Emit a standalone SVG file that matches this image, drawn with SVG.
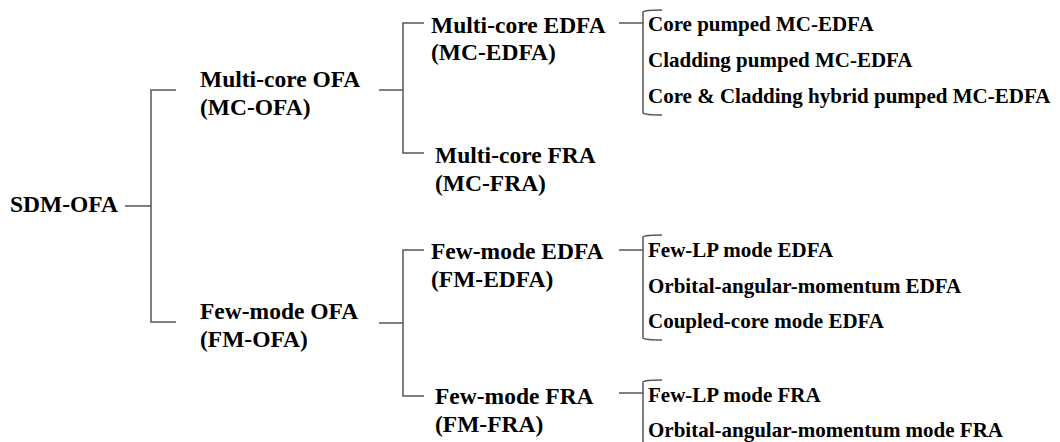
<svg xmlns="http://www.w3.org/2000/svg" width="1060" height="442" viewBox="0 0 1060 442">
<style>
text{font-family:"Liberation Serif","Times New Roman",serif;font-weight:bold;fill:#000}
.m{font-size:23.5px}
.s{font-size:21px}
.c{fill:none;stroke:#555;stroke-width:1.5}
</style>
<rect width="1060" height="442" fill="#fff"/>
<g id="connectors">
<path class="c" d="M125,206H151M176,90H151V322H176"/>
<path class="c" d="M379,90H403M424,23H403V153H424"/>
<path class="c" d="M379,323H403M424,250H403V396H424"/>
<path class="c" d="M619,23H643M662,10Q645,10 643,12V113Q645,115 662,115"/>
<path class="c" d="M619,250H643M662,235Q645,235 643,237V338Q645,340 662,340"/>
<path class="c" d="M619,393H643M662,380Q645,380 643,382V442"/>
</g>
<g id="n-sdm"><text class="m" x="10" y="212">SDM-OFA</text></g>
<g id="n-mcofa"><text class="m" x="200" y="87">Multi-core OFA</text><text class="m" x="200" y="115">(MC-OFA)</text></g>
<g id="n-fmofa"><text class="m" x="200" y="319">Few-mode OFA</text><text class="m" x="200" y="347">(FM-OFA)</text></g>
<g id="n-mcedfa"><text class="m" x="431" y="33">Multi-core EDFA</text><text class="m" x="431" y="60">(MC-EDFA)</text></g>
<g id="n-mcfra"><text class="m" x="435" y="163">Multi-core FRA</text><text class="m" x="435" y="191">(MC-FRA)</text></g>
<g id="n-fmedfa"><text class="m" x="431" y="259">Few-mode EDFA</text><text class="m" x="431" y="287">(FM-EDFA)</text></g>
<g id="n-fmfra"><text class="m" x="435" y="404">Few-mode FRA</text><text class="m" x="435" y="432">(FM-FRA)</text></g>
<g id="n-mcedfa-list">
<text class="s" x="648" y="31">Core pumped MC-EDFA</text>
<text class="s" x="648" y="67">Cladding pumped MC-EDFA</text>
<text class="s" x="648" y="103">Core &amp; Cladding hybrid pumped MC-EDFA</text>
</g>
<g id="n-fmedfa-list">
<text class="s" x="648" y="257">Few-LP mode EDFA</text>
<text class="s" x="648" y="293">Orbital-angular-momentum EDFA</text>
<text class="s" x="648" y="328">Coupled-core mode EDFA</text>
</g>
<g id="n-fmfra-list">
<text class="s" x="648" y="402">Few-LP mode FRA</text>
<text class="s" x="648" y="437">Orbital-angular-momentum mode FRA</text>
</g>
</svg>
